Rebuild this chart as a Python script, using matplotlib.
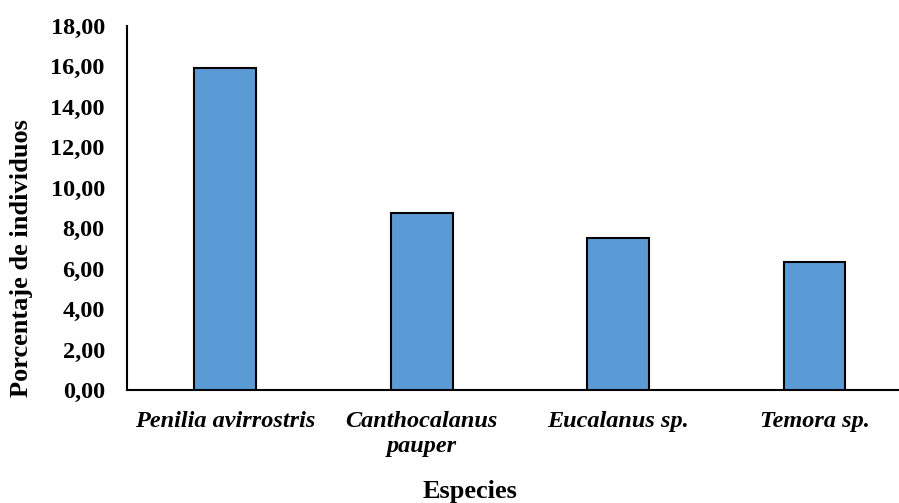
import matplotlib.pyplot as plt
from matplotlib.ticker import FuncFormatter

especies = ["Penilia avirrostris", "Canthocalanus\npauper", "Eucalanus sp.", "Temora sp."]
porcentaje = [15.93, 8.75, 7.52, 6.32]
yticks = [0, 2, 4, 6, 8, 10, 12, 14, 16, 18]

plt.rcParams['font.family'] = ['Liberation Serif', 'DejaVu Serif']
plt.rcParams['font.weight'] = 'bold'

fig = plt.figure(figsize=(8.99, 5.03), dpi=100)
ax = fig.add_axes([0.1413, 0.2247, 0.874, 0.7237])

x = range(len(especies))
ax.bar(x, porcentaje, width=0.315, color="#5B9BD5", edgecolor="black", linewidth=1.5, zorder=3)

ax.set_xlim(-0.5, 3.5)
ax.set_ylim(0, 18)
ax.set_yticks(yticks)
ax.yaxis.set_major_formatter(FuncFormatter(lambda v, p: f"{v:.2f}".replace(".", ",")))
ax.set_xticks(list(x))
ax.set_xticklabels(especies, fontstyle="italic", fontweight="bold", fontsize=17.5,
                   linespacing=1.25, va="top")
ax.tick_params(axis="x", length=0, pad=15)
ax.tick_params(axis="y", length=0, pad=16, labelsize=17.5)

for side in ["top", "right"]:
    ax.spines[side].set_visible(False)
ax.spines["left"].set_linewidth(1.5)
ax.spines["bottom"].set_linewidth(1.5)

fig.text(0.024, 0.487, "Porcentaje de individuos", fontsize=19, fontweight="bold",
         rotation=90, ha="center", va="center")
fig.text(0.523, 0.022, "Especies", fontsize=19, fontweight="bold", ha="center", va="center")

fig.savefig("out.png", dpi=100)
